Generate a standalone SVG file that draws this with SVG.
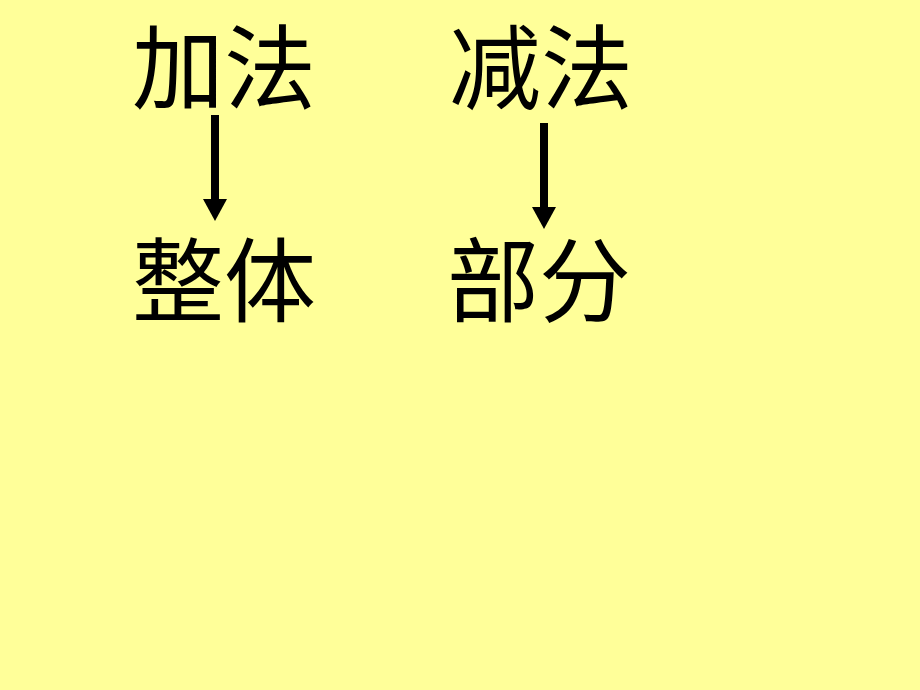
<svg xmlns="http://www.w3.org/2000/svg" width="920" height="690" viewBox="0 0 920 690">
<style>
.t{font-family:"Noto Sans CJK SC","Noto Sans CJK JP",sans-serif;font-size:92px;fill:#000;}
.c{stroke:#000;stroke-width:8;fill:none;}
.h{fill:#000;}
</style>
<rect width="920" height="690" fill="#FFFF99"/>
<g id="n-jiafa"><text class="t" x="132" y="102">加法</text></g>
<g id="n-jianfa"><text class="t" x="449" y="102">减法</text></g>
<g id="n-zhengti"><text class="t" x="132" y="315">整体</text></g>
<g id="n-bufen"><text class="t" x="447" y="315">部分</text></g>
<g id="connectors">
<line class="c" x1="215" y1="115" x2="215" y2="200"/>
<polygon class="h" points="203,199 227,199 215,221"/>
<line class="c" x1="544" y1="123" x2="544" y2="208"/>
<polygon class="h" points="532,207 556,207 544,229"/>
</g>
</svg>
